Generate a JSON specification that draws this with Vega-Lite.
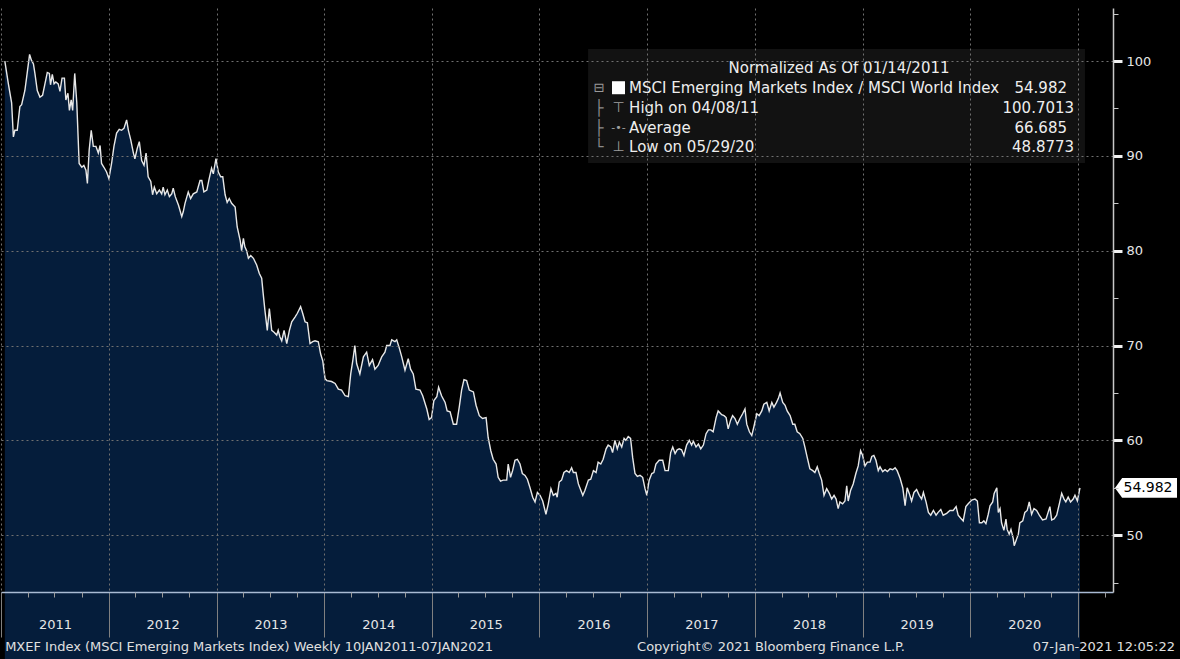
{
  "$schema": "https://vega.github.io/schema/vega-lite/v6.json",
  "width": 1112,
  "height": 584,
  "autosize": {"type": "none"},
  "padding": {"left": 1, "top": 8, "right": 67, "bottom": 67},
  "background": "#000000",
  "config": {"view": {"stroke": null}, "font": "DejaVu Sans"},
  "datasets": {
    "ratio": [
      {"date": "2011-01-14", "value": 100.0}, {"date": "2011-01-26", "value": 97.6}, {"date": "2011-02-06", "value": 95.6}, {"date": "2011-02-12", "value": 92.0}, {"date": "2011-02-17", "value": 92.7}, {"date": "2011-02-25", "value": 92.7}, {"date": "2011-03-06", "value": 95.2}, {"date": "2011-03-12", "value": 95.4}, {"date": "2011-03-23", "value": 96.9}, {"date": "2011-03-29", "value": 98.3}, {"date": "2011-04-08", "value": 100.7}, {"date": "2011-04-14", "value": 100.1}, {"date": "2011-04-21", "value": 99.7}, {"date": "2011-04-26", "value": 98.7}, {"date": "2011-05-04", "value": 96.9}, {"date": "2011-05-13", "value": 96.2}, {"date": "2011-05-22", "value": 96.4}, {"date": "2011-05-30", "value": 97.6}, {"date": "2011-06-07", "value": 98.8}, {"date": "2011-06-14", "value": 98.7}, {"date": "2011-06-18", "value": 97.5}, {"date": "2011-06-24", "value": 98.6}, {"date": "2011-06-30", "value": 97.6}, {"date": "2011-07-06", "value": 97.8}, {"date": "2011-07-14", "value": 97.6}, {"date": "2011-07-20", "value": 96.8}, {"date": "2011-07-27", "value": 98.2}, {"date": "2011-08-04", "value": 98.2}, {"date": "2011-08-09", "value": 95.9}, {"date": "2011-08-16", "value": 96.6}, {"date": "2011-08-21", "value": 94.8}, {"date": "2011-08-27", "value": 95.9}, {"date": "2011-09-01", "value": 94.8}, {"date": "2011-09-08", "value": 98.7}, {"date": "2011-09-15", "value": 95.6}, {"date": "2011-09-23", "value": 89.2}, {"date": "2011-10-02", "value": 88.8}, {"date": "2011-10-09", "value": 89.0}, {"date": "2011-10-16", "value": 88.5}, {"date": "2011-10-21", "value": 87.1}, {"date": "2011-10-27", "value": 90.6}, {"date": "2011-11-03", "value": 92.7}, {"date": "2011-11-10", "value": 91.0}, {"date": "2011-11-19", "value": 91.0}, {"date": "2011-11-27", "value": 90.3}, {"date": "2011-12-03", "value": 91.1}, {"date": "2011-12-08", "value": 89.2}, {"date": "2011-12-16", "value": 88.8}, {"date": "2011-12-25", "value": 88.3},
      {"date": "2012-01-02", "value": 87.6}, {"date": "2012-01-11", "value": 89.2}, {"date": "2012-01-19", "value": 91.0}, {"date": "2012-01-28", "value": 92.4}, {"date": "2012-02-06", "value": 92.8}, {"date": "2012-02-14", "value": 92.7}, {"date": "2012-02-22", "value": 92.9}, {"date": "2012-03-02", "value": 93.8}, {"date": "2012-03-08", "value": 92.7}, {"date": "2012-03-16", "value": 91.7}, {"date": "2012-03-25", "value": 90.3}, {"date": "2012-03-30", "value": 89.7}, {"date": "2012-04-07", "value": 90.8}, {"date": "2012-04-14", "value": 91.5}, {"date": "2012-04-22", "value": 89.5}, {"date": "2012-04-30", "value": 89.0}, {"date": "2012-05-07", "value": 90.3}, {"date": "2012-05-14", "value": 87.8}, {"date": "2012-05-23", "value": 87.3}, {"date": "2012-05-29", "value": 85.9}, {"date": "2012-06-04", "value": 86.7}, {"date": "2012-06-12", "value": 86.0}, {"date": "2012-06-21", "value": 86.4}, {"date": "2012-06-29", "value": 86.0}, {"date": "2012-07-04", "value": 86.7}, {"date": "2012-07-10", "value": 85.9}, {"date": "2012-07-18", "value": 86.4}, {"date": "2012-07-25", "value": 85.7}, {"date": "2012-08-02", "value": 86.0}, {"date": "2012-08-07", "value": 86.6}, {"date": "2012-08-14", "value": 85.7}, {"date": "2012-08-25", "value": 84.8}, {"date": "2012-09-05", "value": 83.6}, {"date": "2012-09-10", "value": 84.1}, {"date": "2012-09-16", "value": 85.0}, {"date": "2012-09-27", "value": 86.2}, {"date": "2012-10-05", "value": 85.5}, {"date": "2012-10-14", "value": 86.0}, {"date": "2012-10-26", "value": 86.2}, {"date": "2012-11-06", "value": 87.4}, {"date": "2012-11-12", "value": 87.4}, {"date": "2012-11-19", "value": 86.2}, {"date": "2012-11-29", "value": 86.4}, {"date": "2012-12-07", "value": 87.6}, {"date": "2012-12-15", "value": 88.7}, {"date": "2012-12-21", "value": 88.1}, {"date": "2012-12-30", "value": 89.7},
      {"date": "2013-01-07", "value": 88.3}, {"date": "2013-01-15", "value": 87.8}, {"date": "2013-01-22", "value": 87.8}, {"date": "2013-01-30", "value": 85.9}, {"date": "2013-02-06", "value": 85.1}, {"date": "2013-02-13", "value": 85.5}, {"date": "2013-02-21", "value": 85.0}, {"date": "2013-03-05", "value": 84.6}, {"date": "2013-03-12", "value": 82.5}, {"date": "2013-03-22", "value": 81.1}, {"date": "2013-03-27", "value": 80.0}, {"date": "2013-04-02", "value": 81.3}, {"date": "2013-04-07", "value": 80.4}, {"date": "2013-04-13", "value": 80.0}, {"date": "2013-04-19", "value": 79.2}, {"date": "2013-04-27", "value": 79.5}, {"date": "2013-05-06", "value": 79.2}, {"date": "2013-05-17", "value": 78.5}, {"date": "2013-05-26", "value": 77.6}, {"date": "2013-06-03", "value": 77.1}, {"date": "2013-06-08", "value": 75.5}, {"date": "2013-06-14", "value": 73.7}, {"date": "2013-06-22", "value": 71.6}, {"date": "2013-06-29", "value": 73.9}, {"date": "2013-07-07", "value": 71.6}, {"date": "2013-07-15", "value": 71.4}, {"date": "2013-07-24", "value": 71.1}, {"date": "2013-07-29", "value": 71.6}, {"date": "2013-08-04", "value": 70.9}, {"date": "2013-08-10", "value": 70.5}, {"date": "2013-08-18", "value": 71.6}, {"date": "2013-08-27", "value": 70.2}, {"date": "2013-09-05", "value": 71.6}, {"date": "2013-09-13", "value": 72.5}, {"date": "2013-09-24", "value": 73.0}, {"date": "2013-10-02", "value": 73.4}, {"date": "2013-10-13", "value": 74.1}, {"date": "2013-10-20", "value": 73.4}, {"date": "2013-10-28", "value": 72.5}, {"date": "2013-11-05", "value": 72.4}, {"date": "2013-11-14", "value": 70.2}, {"date": "2013-11-23", "value": 70.4}, {"date": "2013-12-01", "value": 70.5}, {"date": "2013-12-12", "value": 70.4}, {"date": "2013-12-20", "value": 69.1}, {"date": "2013-12-27", "value": 68.4},
      {"date": "2014-01-04", "value": 66.5}, {"date": "2014-01-10", "value": 66.3}, {"date": "2014-01-26", "value": 66.2}, {"date": "2014-02-07", "value": 66.0}, {"date": "2014-02-18", "value": 65.4}, {"date": "2014-03-01", "value": 65.3}, {"date": "2014-03-13", "value": 64.7}, {"date": "2014-03-24", "value": 64.6}, {"date": "2014-04-01", "value": 67.0}, {"date": "2014-04-08", "value": 68.4}, {"date": "2014-04-15", "value": 70.0}, {"date": "2014-04-21", "value": 68.1}, {"date": "2014-05-02", "value": 67.0}, {"date": "2014-05-14", "value": 68.8}, {"date": "2014-05-25", "value": 69.3}, {"date": "2014-06-03", "value": 67.9}, {"date": "2014-06-14", "value": 68.5}, {"date": "2014-06-22", "value": 67.5}, {"date": "2014-07-03", "value": 67.9}, {"date": "2014-07-15", "value": 68.8}, {"date": "2014-07-26", "value": 69.3}, {"date": "2014-08-01", "value": 70.0}, {"date": "2014-08-12", "value": 70.0}, {"date": "2014-08-18", "value": 70.6}, {"date": "2014-08-29", "value": 70.4}, {"date": "2014-09-04", "value": 70.6}, {"date": "2014-09-13", "value": 69.7}, {"date": "2014-09-21", "value": 68.8}, {"date": "2014-10-02", "value": 67.4}, {"date": "2014-10-13", "value": 68.6}, {"date": "2014-10-21", "value": 67.5}, {"date": "2014-10-30", "value": 67.0}, {"date": "2014-11-08", "value": 65.4}, {"date": "2014-11-22", "value": 65.3}, {"date": "2014-12-01", "value": 64.7}, {"date": "2014-12-15", "value": 63.3}, {"date": "2014-12-23", "value": 62.2}, {"date": "2014-12-31", "value": 62.4},
      {"date": "2015-01-08", "value": 64.2}, {"date": "2015-01-18", "value": 64.6}, {"date": "2015-01-24", "value": 65.6}, {"date": "2015-02-03", "value": 64.7}, {"date": "2015-02-15", "value": 64.0}, {"date": "2015-02-22", "value": 63.1}, {"date": "2015-03-04", "value": 63.0}, {"date": "2015-03-15", "value": 61.7}, {"date": "2015-03-26", "value": 61.7}, {"date": "2015-04-04", "value": 63.5}, {"date": "2015-04-12", "value": 65.3}, {"date": "2015-04-20", "value": 66.4}, {"date": "2015-04-29", "value": 66.3}, {"date": "2015-05-08", "value": 65.3}, {"date": "2015-05-22", "value": 65.1}, {"date": "2015-05-31", "value": 63.7}, {"date": "2015-06-11", "value": 62.6}, {"date": "2015-06-22", "value": 62.3}, {"date": "2015-07-04", "value": 62.4}, {"date": "2015-07-11", "value": 60.3}, {"date": "2015-07-20", "value": 58.9}, {"date": "2015-07-28", "value": 58.0}, {"date": "2015-08-07", "value": 57.5}, {"date": "2015-08-14", "value": 56.1}, {"date": "2015-08-22", "value": 55.7}, {"date": "2015-08-31", "value": 55.8}, {"date": "2015-09-12", "value": 55.8}, {"date": "2015-09-17", "value": 57.5}, {"date": "2015-09-25", "value": 56.1}, {"date": "2015-10-02", "value": 56.8}, {"date": "2015-10-10", "value": 57.9}, {"date": "2015-10-18", "value": 58.0}, {"date": "2015-10-27", "value": 57.5}, {"date": "2015-11-04", "value": 56.5}, {"date": "2015-11-13", "value": 56.3}, {"date": "2015-11-21", "value": 55.9}, {"date": "2015-11-30", "value": 55.0}, {"date": "2015-12-09", "value": 54.0}, {"date": "2015-12-17", "value": 53.5}, {"date": "2015-12-25", "value": 54.5},
      {"date": "2016-01-03", "value": 54.2}, {"date": "2016-01-12", "value": 53.6}, {"date": "2016-01-23", "value": 52.2}, {"date": "2016-01-31", "value": 53.3}, {"date": "2016-02-09", "value": 54.9}, {"date": "2016-02-17", "value": 54.2}, {"date": "2016-02-26", "value": 54.4}, {"date": "2016-03-01", "value": 54.0}, {"date": "2016-03-08", "value": 55.6}, {"date": "2016-03-16", "value": 55.8}, {"date": "2016-03-24", "value": 56.6}, {"date": "2016-04-02", "value": 56.8}, {"date": "2016-04-11", "value": 56.6}, {"date": "2016-04-19", "value": 57.1}, {"date": "2016-04-25", "value": 56.6}, {"date": "2016-05-04", "value": 56.6}, {"date": "2016-05-12", "value": 55.4}, {"date": "2016-05-17", "value": 55.0}, {"date": "2016-05-27", "value": 54.2}, {"date": "2016-06-03", "value": 54.7}, {"date": "2016-06-15", "value": 55.8}, {"date": "2016-06-23", "value": 55.9}, {"date": "2016-07-02", "value": 56.8}, {"date": "2016-07-11", "value": 56.6}, {"date": "2016-07-18", "value": 57.7}, {"date": "2016-07-27", "value": 57.5}, {"date": "2016-08-04", "value": 58.0}, {"date": "2016-08-14", "value": 59.1}, {"date": "2016-08-21", "value": 59.5}, {"date": "2016-08-30", "value": 59.3}, {"date": "2016-09-05", "value": 58.7}, {"date": "2016-09-13", "value": 60.0}, {"date": "2016-09-21", "value": 59.1}, {"date": "2016-09-28", "value": 59.8}, {"date": "2016-10-06", "value": 59.3}, {"date": "2016-10-14", "value": 60.2}, {"date": "2016-10-20", "value": 60.0}, {"date": "2016-10-28", "value": 60.4}, {"date": "2016-11-05", "value": 60.2}, {"date": "2016-11-12", "value": 58.2}, {"date": "2016-11-20", "value": 56.5}, {"date": "2016-11-28", "value": 56.2}, {"date": "2016-12-07", "value": 56.3}, {"date": "2016-12-16", "value": 56.1}, {"date": "2016-12-24", "value": 54.9}, {"date": "2016-12-30", "value": 54.2},
      {"date": "2017-01-07", "value": 55.8}, {"date": "2017-01-16", "value": 56.5}, {"date": "2017-01-23", "value": 56.6}, {"date": "2017-01-30", "value": 57.5}, {"date": "2017-02-10", "value": 57.9}, {"date": "2017-02-22", "value": 57.9}, {"date": "2017-03-02", "value": 56.8}, {"date": "2017-03-13", "value": 56.8}, {"date": "2017-03-21", "value": 58.7}, {"date": "2017-03-28", "value": 59.3}, {"date": "2017-04-05", "value": 58.6}, {"date": "2017-04-12", "value": 59.0}, {"date": "2017-04-19", "value": 59.1}, {"date": "2017-04-27", "value": 59.0}, {"date": "2017-05-05", "value": 58.4}, {"date": "2017-05-14", "value": 59.5}, {"date": "2017-05-23", "value": 60.0}, {"date": "2017-05-31", "value": 59.5}, {"date": "2017-06-06", "value": 59.9}, {"date": "2017-06-15", "value": 59.3}, {"date": "2017-06-23", "value": 59.6}, {"date": "2017-07-01", "value": 59.1}, {"date": "2017-07-10", "value": 59.5}, {"date": "2017-07-19", "value": 60.7}, {"date": "2017-07-27", "value": 61.1}, {"date": "2017-08-04", "value": 61.1}, {"date": "2017-08-12", "value": 60.9}, {"date": "2017-08-22", "value": 62.4}, {"date": "2017-08-29", "value": 63.1}, {"date": "2017-09-10", "value": 62.7}, {"date": "2017-09-18", "value": 62.6}, {"date": "2017-09-25", "value": 62.4}, {"date": "2017-10-02", "value": 61.2}, {"date": "2017-10-10", "value": 62.1}, {"date": "2017-10-17", "value": 62.6}, {"date": "2017-10-25", "value": 62.3}, {"date": "2017-11-02", "value": 61.7}, {"date": "2017-11-11", "value": 62.3}, {"date": "2017-11-20", "value": 62.8}, {"date": "2017-11-28", "value": 63.3}, {"date": "2017-12-04", "value": 61.7}, {"date": "2017-12-13", "value": 60.9}, {"date": "2017-12-21", "value": 60.5}, {"date": "2017-12-28", "value": 61.4},
      {"date": "2018-01-07", "value": 62.8}, {"date": "2018-01-15", "value": 62.6}, {"date": "2018-01-24", "value": 63.1}, {"date": "2018-01-31", "value": 63.8}, {"date": "2018-02-10", "value": 64.0}, {"date": "2018-02-18", "value": 63.1}, {"date": "2018-02-27", "value": 64.0}, {"date": "2018-03-06", "value": 63.5}, {"date": "2018-03-15", "value": 64.0}, {"date": "2018-03-21", "value": 64.4}, {"date": "2018-03-27", "value": 65.0}, {"date": "2018-04-05", "value": 64.0}, {"date": "2018-04-13", "value": 63.7}, {"date": "2018-04-20", "value": 63.1}, {"date": "2018-04-30", "value": 62.6}, {"date": "2018-05-09", "value": 61.7}, {"date": "2018-05-16", "value": 61.7}, {"date": "2018-05-24", "value": 60.9}, {"date": "2018-06-02", "value": 60.7}, {"date": "2018-06-12", "value": 60.2}, {"date": "2018-06-19", "value": 59.3}, {"date": "2018-06-27", "value": 58.2}, {"date": "2018-07-06", "value": 57.0}, {"date": "2018-07-16", "value": 56.8}, {"date": "2018-07-23", "value": 56.6}, {"date": "2018-07-31", "value": 57.2}, {"date": "2018-08-07", "value": 56.5}, {"date": "2018-08-15", "value": 55.8}, {"date": "2018-08-23", "value": 54.2}, {"date": "2018-09-01", "value": 54.9}, {"date": "2018-09-10", "value": 54.4}, {"date": "2018-09-18", "value": 53.8}, {"date": "2018-09-26", "value": 54.2}, {"date": "2018-10-03", "value": 53.8}, {"date": "2018-10-10", "value": 52.8}, {"date": "2018-10-16", "value": 53.5}, {"date": "2018-10-25", "value": 53.3}, {"date": "2018-11-02", "value": 53.6}, {"date": "2018-11-08", "value": 55.2}, {"date": "2018-11-13", "value": 53.6}, {"date": "2018-11-21", "value": 54.7}, {"date": "2018-11-30", "value": 55.4}, {"date": "2018-12-09", "value": 56.5}, {"date": "2018-12-17", "value": 57.3}, {"date": "2018-12-25", "value": 58.9},
      {"date": "2019-01-01", "value": 58.4}, {"date": "2019-01-09", "value": 57.3}, {"date": "2019-01-17", "value": 57.7}, {"date": "2019-01-26", "value": 57.7}, {"date": "2019-02-01", "value": 58.3}, {"date": "2019-02-08", "value": 58.4}, {"date": "2019-02-15", "value": 57.9}, {"date": "2019-02-23", "value": 56.8}, {"date": "2019-03-01", "value": 57.2}, {"date": "2019-03-10", "value": 56.7}, {"date": "2019-03-18", "value": 56.9}, {"date": "2019-03-26", "value": 56.7}, {"date": "2019-04-04", "value": 57.0}, {"date": "2019-04-13", "value": 56.9}, {"date": "2019-04-21", "value": 57.1}, {"date": "2019-04-28", "value": 56.8}, {"date": "2019-05-08", "value": 56.0}, {"date": "2019-05-17", "value": 55.0}, {"date": "2019-05-25", "value": 53.1}, {"date": "2019-06-01", "value": 55.0}, {"date": "2019-06-08", "value": 54.4}, {"date": "2019-06-16", "value": 53.6}, {"date": "2019-06-24", "value": 54.5}, {"date": "2019-07-03", "value": 54.8}, {"date": "2019-07-12", "value": 54.2}, {"date": "2019-07-20", "value": 53.8}, {"date": "2019-07-26", "value": 54.5}, {"date": "2019-08-04", "value": 53.5}, {"date": "2019-08-12", "value": 52.4}, {"date": "2019-08-20", "value": 52.1}, {"date": "2019-08-29", "value": 52.6}, {"date": "2019-09-07", "value": 52.1}, {"date": "2019-09-14", "value": 52.4}, {"date": "2019-09-23", "value": 52.7}, {"date": "2019-10-01", "value": 52.1}, {"date": "2019-10-13", "value": 52.3}, {"date": "2019-10-24", "value": 52.6}, {"date": "2019-11-04", "value": 52.6}, {"date": "2019-11-14", "value": 53.0}, {"date": "2019-11-21", "value": 52.1}, {"date": "2019-11-29", "value": 51.8}, {"date": "2019-12-08", "value": 51.5}, {"date": "2019-12-17", "value": 53.0}, {"date": "2019-12-25", "value": 53.3},
      {"date": "2020-01-06", "value": 53.7}, {"date": "2020-01-17", "value": 53.8}, {"date": "2020-01-25", "value": 53.6}, {"date": "2020-02-01", "value": 51.3}, {"date": "2020-02-09", "value": 51.3}, {"date": "2020-02-16", "value": 51.5}, {"date": "2020-02-23", "value": 51.2}, {"date": "2020-03-02", "value": 52.2}, {"date": "2020-03-08", "value": 53.1}, {"date": "2020-03-17", "value": 53.5}, {"date": "2020-03-22", "value": 54.4}, {"date": "2020-03-31", "value": 55.0}, {"date": "2020-04-05", "value": 52.4}, {"date": "2020-04-11", "value": 52.8}, {"date": "2020-04-16", "value": 51.3}, {"date": "2020-04-24", "value": 50.5}, {"date": "2020-05-01", "value": 51.7}, {"date": "2020-05-05", "value": 50.6}, {"date": "2020-05-12", "value": 50.1}, {"date": "2020-05-18", "value": 50.6}, {"date": "2020-05-26", "value": 49.6}, {"date": "2020-05-29", "value": 48.88}, {"date": "2020-06-12", "value": 50.1}, {"date": "2020-06-17", "value": 51.3}, {"date": "2020-06-27", "value": 51.5}, {"date": "2020-07-04", "value": 52.4}, {"date": "2020-07-12", "value": 52.6}, {"date": "2020-07-19", "value": 53.5}, {"date": "2020-07-27", "value": 52.2}, {"date": "2020-08-04", "value": 52.8}, {"date": "2020-08-13", "value": 52.6}, {"date": "2020-08-22", "value": 52.1}, {"date": "2020-09-02", "value": 51.6}, {"date": "2020-09-14", "value": 51.7}, {"date": "2020-09-21", "value": 52.4}, {"date": "2020-09-27", "value": 53.0}, {"date": "2020-10-03", "value": 51.6}, {"date": "2020-10-11", "value": 51.7}, {"date": "2020-10-20", "value": 52.1}, {"date": "2020-10-29", "value": 53.3}, {"date": "2020-11-06", "value": 54.4}, {"date": "2020-11-14", "value": 53.8}, {"date": "2020-11-20", "value": 53.5}, {"date": "2020-11-28", "value": 54.0}, {"date": "2020-12-06", "value": 53.5}, {"date": "2020-12-15", "value": 53.8}, {"date": "2020-12-21", "value": 54.2}, {"date": "2020-12-29", "value": 53.6}, {"date": "2021-01-07", "value": 54.982}
    ]
  },
  "data": {"name": "ratio"},
  "layer": [
    {
      "mark": {"type": "area", "color": "#051d3b", "opacity": 1},
      "encoding": {
        "x": {
          "field": "date", "type": "temporal",
          "scale": {"domain": [{"year": 2011, "month": 1, "date": 1}, {"year": 2021, "month": 4, "date": 29}]},
          "axis": {
            "orient": "bottom",
            "values": [{"year": 2011, "month": 1, "date": 1}, {"year": 2012, "month": 1, "date": 1}, {"year": 2013, "month": 1, "date": 1}, {"year": 2014, "month": 1, "date": 1}, {"year": 2015, "month": 1, "date": 1}, {"year": 2016, "month": 1, "date": 1}, {"year": 2017, "month": 1, "date": 1}, {"year": 2018, "month": 1, "date": 1}, {"year": 2019, "month": 1, "date": 1}, {"year": 2020, "month": 1, "date": 1}, {"year": 2021, "month": 1, "date": 1}],
            "grid": true, "gridColor": "#707070", "gridDash": [2, 3], "gridWidth": 1,
            "domain": true, "domainColor": "#a9bad3", "domainWidth": 1.5,
            "ticks": true, "tickSize": 45, "tickColor": "#808080", "tickWidth": 1,
            "labelOffset": 54, "labelPadding": -19, "labelColor": "#e6e6e6", "labelFont": "DejaVu Sans", "labelFontSize": 13,
            "labelExpr": "year(datum.value) >= 2021 ? '' : timeFormat(datum.value, '%Y')",
            "labelFlush": false, "labelOverlap": false, "labelBound": false,
            "title": null, "zindex": 1
          }
        },
        "y": {
          "field": "value", "type": "quantitative",
          "scale": {"domain": [44, 105.6], "zero": false, "nice": false},
          "axis": {
            "orient": "right",
            "values": [50, 60, 70, 80, 90, 100],
            "grid": true, "gridColor": "#707070", "gridDash": [2, 3], "gridWidth": 1,
            "domain": true, "domainColor": "#c8c8c8", "domainWidth": 1.5,
            "ticks": true, "tickSize": 9, "tickWidth": 3, "tickColor": "#f0f0f0",
            "labelColor": "#e6e6e6", "labelFont": "DejaVu Sans", "labelFontSize": 13, "labelPadding": 4,
            "title": null, "zindex": 1
          }
        }
      }
    },
    {
      "mark": {"type": "line", "color": "#e8e8e8", "strokeWidth": 1.4},
      "encoding": {
        "x": {
          "field": "date", "type": "temporal",
          "axis": {
            "orient": "bottom",
            "values": [{"year": 2011, "month": 4, "date": 1}, {"year": 2011, "month": 7, "date": 1}, {"year": 2011, "month": 10, "date": 1}, {"year": 2012, "month": 4, "date": 1}, {"year": 2012, "month": 7, "date": 1}, {"year": 2012, "month": 10, "date": 1}, {"year": 2013, "month": 4, "date": 1}, {"year": 2013, "month": 7, "date": 1}, {"year": 2013, "month": 10, "date": 1}, {"year": 2014, "month": 4, "date": 1}, {"year": 2014, "month": 7, "date": 1}, {"year": 2014, "month": 10, "date": 1}, {"year": 2015, "month": 4, "date": 1}, {"year": 2015, "month": 7, "date": 1}, {"year": 2015, "month": 10, "date": 1}, {"year": 2016, "month": 4, "date": 1}, {"year": 2016, "month": 7, "date": 1}, {"year": 2016, "month": 10, "date": 1}, {"year": 2017, "month": 4, "date": 1}, {"year": 2017, "month": 7, "date": 1}, {"year": 2017, "month": 10, "date": 1}, {"year": 2018, "month": 4, "date": 1}, {"year": 2018, "month": 7, "date": 1}, {"year": 2018, "month": 10, "date": 1}, {"year": 2019, "month": 4, "date": 1}, {"year": 2019, "month": 7, "date": 1}, {"year": 2019, "month": 10, "date": 1}, {"year": 2020, "month": 4, "date": 1}, {"year": 2020, "month": 7, "date": 1}, {"year": 2020, "month": 10, "date": 1}, {"year": 2021, "month": 4, "date": 1}],
            "grid": false, "domain": false, "labels": false,
            "ticks": true, "tickSize": 5, "tickColor": "#9a9a9a", "tickWidth": 1,
            "title": null, "zindex": 1
          }
        },
        "y": {
          "field": "value", "type": "quantitative",
          "axis": {
            "orient": "right",
            "values": [45, 55, 65, 75, 85, 95, 105],
            "grid": false, "domain": false, "labels": false,
            "ticks": true, "tickSize": 5, "tickColor": "#c8c8c8", "tickWidth": 1,
            "title": null, "zindex": 1
          }
        }
      }
    },
    {
      "data": {"values": [{}]},
      "mark": {"type": "rect", "color": "#ffffff", "opacity": 0.07},
      "encoding": {
        "x": {"datum": {"year": 2016, "month": 6, "date": 14}, "type": "temporal", "axis": null},
        "x2": {"datum": {"year": 2021, "month": 1, "date": 24}},
        "y": {"datum": 101.28, "type": "quantitative", "axis": null},
        "y2": {"datum": 89.25}
      }
    },
    {
      "data": {"values": [{}]},
      "mark": {"type": "text", "text": "Normalized As Of 01/14/2011", "align": "center", "baseline": "middle", "font": "DejaVu Sans", "fontSize": 15, "color": "#eeeeee"},
      "encoding": {
        "x": {"datum": {"year": 2018, "month": 10, "date": 13}, "type": "temporal", "axis": null},
        "y": {"datum": 99.24, "type": "quantitative", "axis": null}
      }
    },
    {
      "data": {"values": [{}]},
      "mark": {"type": "text", "text": "MSCI Emerging Markets Index / MSCI World Index", "align": "left", "baseline": "middle", "font": "DejaVu Sans", "fontSize": 15, "color": "#eeeeee"},
      "encoding": {
        "x": {"datum": {"year": 2016, "month": 10, "date": 31}, "type": "temporal", "axis": null},
        "y": {"datum": 97.19, "type": "quantitative", "axis": null}
      }
    },
    {
      "data": {"values": [{}]},
      "mark": {"type": "text", "text": "High on 04/08/11", "align": "left", "baseline": "middle", "font": "DejaVu Sans", "fontSize": 15, "color": "#eeeeee"},
      "encoding": {
        "x": {"datum": {"year": 2016, "month": 10, "date": 31}, "type": "temporal", "axis": null},
        "y": {"datum": 95.08, "type": "quantitative", "axis": null}
      }
    },
    {
      "data": {"values": [{}]},
      "mark": {"type": "text", "text": "Average", "align": "left", "baseline": "middle", "font": "DejaVu Sans", "fontSize": 15, "color": "#eeeeee"},
      "encoding": {
        "x": {"datum": {"year": 2016, "month": 10, "date": 31}, "type": "temporal", "axis": null},
        "y": {"datum": 92.97, "type": "quantitative", "axis": null}
      }
    },
    {
      "data": {"values": [{}]},
      "mark": {"type": "text", "text": "Low on 05/29/20", "align": "left", "baseline": "middle", "font": "DejaVu Sans", "fontSize": 15, "color": "#eeeeee"},
      "encoding": {
        "x": {"datum": {"year": 2016, "month": 10, "date": 31}, "type": "temporal", "axis": null},
        "y": {"datum": 90.97, "type": "quantitative", "axis": null}
      }
    },
    {
      "data": {"values": [{}]},
      "mark": {"type": "text", "text": "54.982", "align": "right", "baseline": "middle", "font": "DejaVu Sans", "fontSize": 15, "color": "#eeeeee"},
      "encoding": {
        "x": {"datum": {"year": 2020, "month": 11, "date": 24}, "type": "temporal", "axis": null},
        "y": {"datum": 97.19, "type": "quantitative", "axis": null}
      }
    },
    {
      "data": {"values": [{}]},
      "mark": {"type": "text", "text": "100.7013", "align": "right", "baseline": "middle", "font": "DejaVu Sans", "fontSize": 15, "color": "#eeeeee"},
      "encoding": {
        "x": {"datum": {"year": 2020, "month": 12, "date": 18}, "type": "temporal", "axis": null},
        "y": {"datum": 95.08, "type": "quantitative", "axis": null}
      }
    },
    {
      "data": {"values": [{}]},
      "mark": {"type": "text", "text": "66.685", "align": "right", "baseline": "middle", "font": "DejaVu Sans", "fontSize": 15, "color": "#eeeeee"},
      "encoding": {
        "x": {"datum": {"year": 2020, "month": 11, "date": 24}, "type": "temporal", "axis": null},
        "y": {"datum": 92.97, "type": "quantitative", "axis": null}
      }
    },
    {
      "data": {"values": [{}]},
      "mark": {"type": "text", "text": "48.8773", "align": "right", "baseline": "middle", "font": "DejaVu Sans", "fontSize": 15, "color": "#eeeeee"},
      "encoding": {
        "x": {"datum": {"year": 2020, "month": 12, "date": 18}, "type": "temporal", "axis": null},
        "y": {"datum": 90.97, "type": "quantitative", "axis": null}
      }
    },
    {
      "data": {"values": [{}]},
      "mark": {"type": "point", "shape": "square", "filled": true, "color": "#ffffff", "opacity": 1, "size": 169},
      "encoding": {
        "x": {"datum": {"year": 2016, "month": 9, "date": 25}, "type": "temporal", "axis": null},
        "y": {"datum": 97.19, "type": "quantitative", "axis": null}
      }
    },
    {
      "data": {"values": [{}]},
      "mark": {"type": "text", "text": "⊟", "align": "center", "baseline": "middle", "font": "DejaVu Sans", "fontSize": 13, "color": "#9a9a9a"},
      "encoding": {
        "x": {"datum": {"year": 2016, "month": 7, "date": 21}, "type": "temporal", "axis": null},
        "y": {"datum": 97.19, "type": "quantitative", "axis": null}
      }
    },
    {
      "data": {"values": [{}]},
      "mark": {"type": "text", "text": "├", "align": "center", "baseline": "middle", "font": "DejaVu Sans", "fontSize": 15, "color": "#8a8a8a"},
      "encoding": {
        "x": {"datum": {"year": 2016, "month": 7, "date": 21}, "type": "temporal", "axis": null},
        "y": {"datum": 95.08, "type": "quantitative", "axis": null}
      }
    },
    {
      "data": {"values": [{}]},
      "mark": {"type": "text", "text": "├", "align": "center", "baseline": "middle", "font": "DejaVu Sans", "fontSize": 15, "color": "#8a8a8a"},
      "encoding": {
        "x": {"datum": {"year": 2016, "month": 7, "date": 21}, "type": "temporal", "axis": null},
        "y": {"datum": 92.97, "type": "quantitative", "axis": null}
      }
    },
    {
      "data": {"values": [{}]},
      "mark": {"type": "text", "text": "└", "align": "center", "baseline": "middle", "font": "DejaVu Sans", "fontSize": 15, "color": "#8a8a8a"},
      "encoding": {
        "x": {"datum": {"year": 2016, "month": 7, "date": 21}, "type": "temporal", "axis": null},
        "y": {"datum": 90.97, "type": "quantitative", "axis": null}
      }
    },
    {
      "data": {"values": [{}]},
      "mark": {"type": "text", "text": "⊤", "align": "center", "baseline": "middle", "font": "DejaVu Sans", "fontSize": 14, "color": "#a0a0a0"},
      "encoding": {
        "x": {"datum": {"year": 2016, "month": 9, "date": 25}, "type": "temporal", "axis": null},
        "y": {"datum": 95.08, "type": "quantitative", "axis": null}
      }
    },
    {
      "data": {"values": [{}]},
      "mark": {"type": "text", "text": "-•-", "align": "center", "baseline": "middle", "font": "DejaVu Sans", "fontSize": 11, "color": "#a0a0a0"},
      "encoding": {
        "x": {"datum": {"year": 2016, "month": 9, "date": 25}, "type": "temporal", "axis": null},
        "y": {"datum": 92.97, "type": "quantitative", "axis": null}
      }
    },
    {
      "data": {"values": [{}]},
      "mark": {"type": "text", "text": "⊥", "align": "center", "baseline": "middle", "font": "DejaVu Sans", "fontSize": 14, "color": "#a0a0a0"},
      "encoding": {
        "x": {"datum": {"year": 2016, "month": 9, "date": 25}, "type": "temporal", "axis": null},
        "y": {"datum": 90.97, "type": "quantitative", "axis": null}
      }
    },
    {
      "data": {"values": [{}]},
      "mark": {"type": "point", "shape": "M-1,0L-0.77,-0.32L1,-0.32L1,0.32L-0.77,0.32Z", "filled": true, "color": "#ffffff", "opacity": 1, "size": 3844, "xOffset": 33},
      "encoding": {
        "x": {"datum": {"year": 2021, "month": 4, "date": 29}, "type": "temporal", "axis": null},
        "y": {"datum": 54.982, "type": "quantitative", "axis": null}
      }
    },
    {
      "data": {"values": [{}]},
      "mark": {"type": "text", "text": "54.982", "align": "center", "baseline": "middle", "font": "DejaVu Sans", "fontSize": 14, "color": "#000000", "dx": 35},
      "encoding": {
        "x": {"datum": {"year": 2021, "month": 4, "date": 29}, "type": "temporal", "axis": null},
        "y": {"datum": 54.982, "type": "quantitative", "axis": null}
      }
    },
    {
      "data": {"values": [{}]},
      "mark": {"type": "text", "text": "MXEF Index (MSCI Emerging Markets Index)  Weekly 10JAN2011-07JAN2021", "align": "left", "baseline": "middle", "font": "DejaVu Sans", "fontSize": 13, "color": "#e0e0e0"},
      "encoding": {
        "x": {"datum": {"year": 2011, "month": 1, "date": 15}, "type": "temporal", "axis": null},
        "y": {"datum": 38.2, "type": "quantitative", "axis": null}
      }
    },
    {
      "data": {"values": [{}]},
      "mark": {"type": "text", "text": "Copyright© 2021 Bloomberg Finance L.P.", "align": "left", "baseline": "middle", "font": "DejaVu Sans", "fontSize": 13, "color": "#e0e0e0"},
      "encoding": {
        "x": {"datum": {"year": 2016, "month": 11, "date": 27}, "type": "temporal", "axis": null},
        "y": {"datum": 38.2, "type": "quantitative", "axis": null}
      }
    },
    {
      "data": {"values": [{}]},
      "mark": {"type": "text", "text": "07-Jan-2021 12:05:22", "align": "right", "baseline": "middle", "font": "DejaVu Sans", "fontSize": 13, "color": "#e0e0e0"},
      "encoding": {
        "x": {"datum": {"year": 2021, "month": 11, "date": 25}, "type": "temporal", "axis": null},
        "y": {"datum": 38.2, "type": "quantitative", "axis": null}
      }
    }
  ],
  "resolve": {"axis": {"x": "independent", "y": "independent"}}
}
